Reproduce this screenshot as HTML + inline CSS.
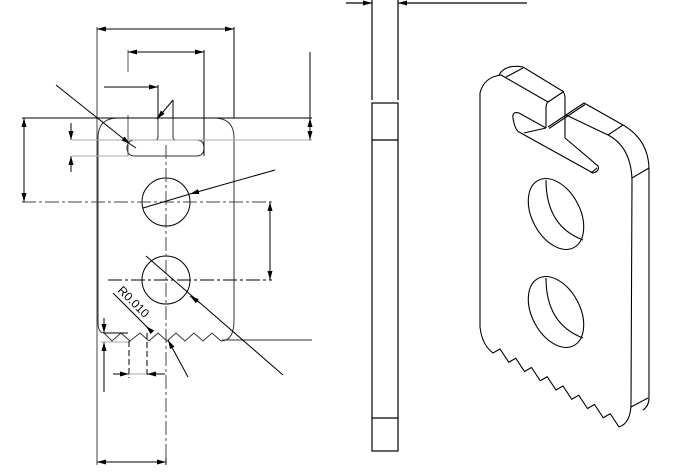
<!DOCTYPE html>
<html><head><meta charset="utf-8"><style>
html,body{margin:0;padding:0;background:#fff;}
svg{display:block;}
</style></head><body>
<svg width="680" height="476" viewBox="0 0 680 476" xmlns="http://www.w3.org/2000/svg">
<defs>
<marker id="a" markerWidth="10" markerHeight="6" refX="9" refY="3" orient="auto" markerUnits="userSpaceOnUse">
<path d="M0,0.5 L9,3 L0,5.5 Z" fill="#000"/></marker>
</defs>
<g fill="none" stroke="#000" stroke-width="1">
<path d="M98,322 L98,138 Q98,118 118,118 L158,118 L158,137 Q158,140 155,140 L135,140 Q127,140 127,148 Q127,156 135,156 L196,156 Q204,156 204,148 Q204,140 196,140 L176,140 Q173,140 173,137 L173,118 L214,118 Q234,118 234,138 L234,320 Q234,341 221,341 L212,333 L203,341 L194,333 L185,341 L176,333 L167,341 L158,333 L149,341 L140,333 L130,341 L121,333 L112,341 L104,333 Q98,333 98,322" stroke="#333"/>
<circle cx="166" cy="202" r="24"/>
<circle cx="166" cy="280" r="24"/>
<line x1="166" y1="145" x2="166" y2="462" stroke="#444" stroke-dasharray="14,3,3,3"/>
<line x1="22" y1="202" x2="272" y2="202" stroke="#444" stroke-dasharray="14,3,3,3"/>
<line x1="108" y1="280" x2="272" y2="280" stroke="#000" stroke-dasharray="14,3,3,3"/>
<line x1="97" y1="27" x2="97" y2="465" stroke="#444"/>
<line x1="234" y1="27" x2="234" y2="118"/>
<line x1="128" y1="50" x2="128" y2="72" stroke="#555"/>
<line x1="128" y1="115" x2="128" y2="156" stroke="#555"/>
<line x1="204" y1="50" x2="204" y2="156"/>
<line x1="22" y1="118" x2="312" y2="118"/>
<line x1="72" y1="140" x2="312" y2="140" stroke="#aaa"/>
<line x1="72" y1="156" x2="128" y2="156" stroke="#aaa"/>
<line x1="222" y1="340" x2="312" y2="340" stroke="#333"/>
<line x1="97" y1="29" x2="234" y2="29" marker-end="url(#a)"/>
<path d="M105,29 L97,29" marker-end="url(#a)"/>
<line x1="128" y1="52" x2="204" y2="52" marker-end="url(#a)"/>
<path d="M136,52 L128,52" marker-end="url(#a)"/>
<line x1="104" y1="87" x2="158" y2="87" marker-end="url(#a)"/>
<line x1="158" y1="85" x2="158" y2="118"/>
<line x1="24" y1="125" x2="24" y2="118" marker-end="url(#a)"/>
<line x1="24" y1="125" x2="24" y2="202" marker-end="url(#a)"/>
<line x1="71" y1="123" x2="71" y2="140" marker-end="url(#a)"/>
<line x1="71" y1="172" x2="71" y2="156" marker-end="url(#a)"/>
<line x1="310" y1="52" x2="310" y2="118" />
<path d="M310,128 L310,140" marker-end="url(#a)"/>
<path d="M310,128 L310,118" marker-end="url(#a)"/>
<line x1="270" y1="210" x2="270" y2="202" marker-end="url(#a)"/>
<line x1="270" y1="210" x2="270" y2="280" marker-end="url(#a)"/>
<line x1="104" y1="462" x2="97" y2="462" marker-end="url(#a)"/>
<line x1="104" y1="462" x2="166" y2="462" marker-end="url(#a)"/>
<line x1="166" y1="465" x2="166" y2="458"/>
<line x1="56" y1="85" x2="130" y2="144" marker-end="url(#a)"/>
<line x1="130" y1="144" x2="136" y2="148"/>
<line x1="173" y1="100" x2="157" y2="119" marker-end="url(#a)"/>
<line x1="173" y1="100" x2="173" y2="118"/>
<line x1="275" y1="170" x2="190" y2="194" marker-end="url(#a)"/>
<line x1="190" y1="194" x2="143" y2="208"/>
<line x1="146" y1="256" x2="283" y2="375"/>
<path d="M200,303 L190,296" marker-end="url(#a)"/>
<line x1="188" y1="377" x2="168" y2="340" marker-end="url(#a)"/>
<line x1="113" y1="293" x2="150" y2="330"/>
<path d="M150,330 L146,326" marker-end="url(#a)"/>
<line x1="104" y1="318" x2="104" y2="333" marker-end="url(#a)"/>
<line x1="104" y1="392" x2="104" y2="342" marker-end="url(#a)"/>
<line x1="101" y1="342" x2="130" y2="342" stroke="#aaa"/>
<line x1="104" y1="333" x2="128" y2="333"/>
<line x1="129" y1="341" x2="129" y2="378" stroke-dasharray="6,3"/>
<line x1="147" y1="333" x2="147" y2="378" stroke-dasharray="6,3"/>
<line x1="113" y1="374" x2="129" y2="374" marker-end="url(#a)"/>
<line x1="165" y1="374" x2="147" y2="374" marker-end="url(#a)"/>
<line x1="129" y1="374" x2="147" y2="374" stroke="#aaa"/>
</g>
<text x="0" y="0" transform="translate(117,291) rotate(45)" font-family="Liberation Sans, sans-serif" font-size="12" fill="#000">R0.010</text>

<g fill="none" stroke="#000" stroke-width="1.2">
<line x1="372" y1="0" x2="372" y2="100"/>
<line x1="398" y1="0" x2="398" y2="100"/>
<rect x="372" y="103" width="26" height="348"/>
<line x1="372" y1="140" x2="398" y2="140"/>
<line x1="372" y1="418" x2="398" y2="418"/>
<line x1="346" y1="3" x2="372" y2="3" marker-end="url(#a)"/>
<line x1="527" y1="3" x2="398" y2="3" marker-end="url(#a)"/>
</g>

<g fill="none" stroke="#000" stroke-width="1.1">
<path d="M480,327 L480,93 Q484,77 501,75 L548,102"/>
<path d="M499,75 Q505,64 523,67 L564,92"/>
<line x1="506" y1="77" x2="523" y2="68"/>
<path d="M548,102 Q546,104 546,108 L546,128"/>
<line x1="548" y1="102" x2="563" y2="92"/>
<path d="M563,92 Q565,94 565,98 L565,138"/>
<line x1="548" y1="127" x2="584" y2="103"/>
<line x1="549" y1="128.5" x2="585" y2="104.5"/>
<line x1="584" y1="103" x2="623" y2="125"/>
<line x1="566" y1="115" x2="608" y2="135"/>
<line x1="608" y1="135" x2="623" y2="125"/>
<path d="M623,125 Q649,140 649,170 L649,398 Q649,406 643,410"/>
<path d="M608,135 Q631,147 632,180 L631,403 Q631,423 619,427"/>
<line x1="632" y1="178" x2="649" y2="168"/>
<line x1="631" y1="407" x2="648" y2="398"/>
<path d="M546,128 L519,113 Q512,111 513,118 Q515,130 519,132 L593,173 Q600,171 598,166 L565,138"/>
<line x1="524" y1="133" x2="546" y2="128"/>
<line x1="591" y1="173" x2="597" y2="168"/>
<ellipse cx="556" cy="214" rx="24" ry="38" transform="rotate(-28 556 214)"/>
<path d="M546,180 Q546,226 583,240"/>
<ellipse cx="556" cy="312" rx="24" ry="38" transform="rotate(-28 556 312)"/>
<path d="M546,278 Q546,324 583,338"/>
<path d="M480,327 Q482,345 493,353 L500,349 L508.75,362.25 L515.75,358.25 L524.5,371.5 L531.5,367.5 L540.25,380.75 L547.25,376.75 L556,390 L563,386 L571.75,399.25 L578.75,395.25 L587.5,408.5 L594.5,404.5 L603.25,417.75 L610.25,413.75 L619,427"/>
</g>
</svg>
</body></html>
